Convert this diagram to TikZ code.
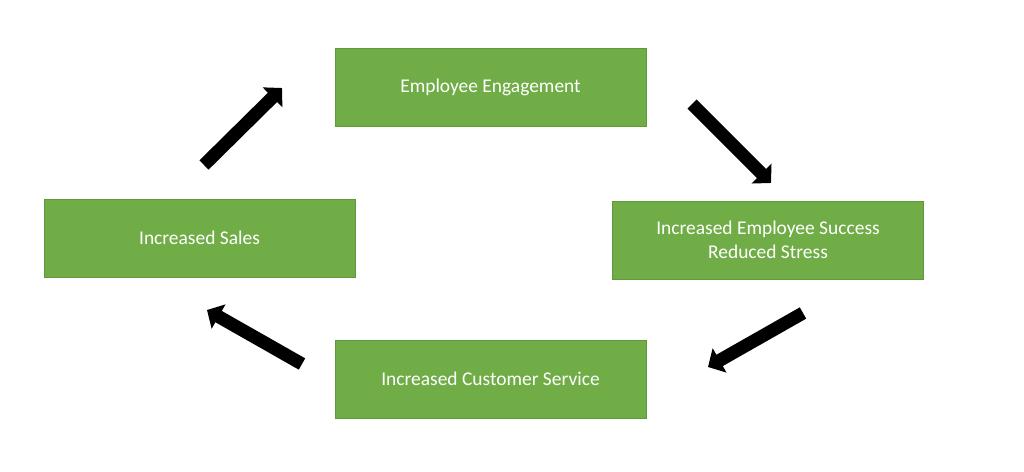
\documentclass[tikz,border=0pt]{standalone}
\usepackage{fontspec}
\setmainfont{Carlito}
\usepackage{xcolor}
\usepackage{tikz}
\usetikzlibrary{positioning, arrows.meta}
\definecolor{officegreen}{HTML}{70AD47}
\definecolor{greenline}{HTML}{5E9A3C}

\begin{document}
\begin{tikzpicture}[x=0.03cm,y=-0.03cm]
						\tikzstyle{stage}=[rectangle,draw=greenline,line width=0.6pt,fill=officegreen,text=white,inner sep=0pt,minimum width=9.33cm,minimum height=2.34cm,align=center,font=\fontsize{16.6}{20.5}\selectfont]
						\tikzstyle{flow}=[draw=black,line width=0.39cm,-{Triangle[width=0.82cm,length=0.4cm]}]
						\useasboundingbox (0,0) rectangle (1024,472);
						\node[stage](engage) at (490.5,87){Employee Engagement};
						\node[stage](success) at (768,240){Increased Employee Success\\Reduced Stress};
						\node[stage](service) at (490.5,379){Increased Customer Service};
						\node[stage](sales) at (199.5,238){Increased Sales};
						\coordinate (a1s) at (204,165);
						\coordinate (a1e) at (282,88);
						\coordinate (a2s) at (692,104);
						\coordinate (a2e) at (771,183);
						\coordinate (a3s) at (803,313);
						\coordinate (a3e) at (708,367);
						\coordinate (a4s) at (302,364);
						\coordinate (a4e) at (207,310);
						\path
							(a1s) edge[flow] node {}(a1e)
							(a2s) edge[flow] node {}(a2e)
							(a3s) edge[flow] node {}(a3e)
							(a4s) edge[flow] node {}(a4e);
					\end{tikzpicture}
\end{document}
